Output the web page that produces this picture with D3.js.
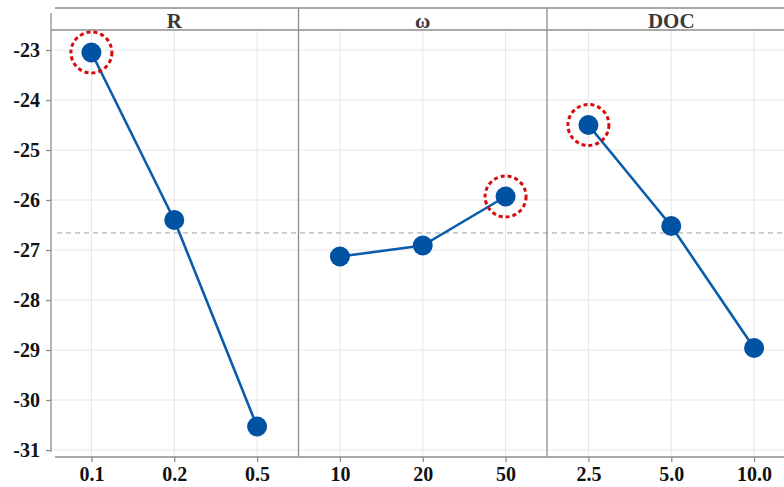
<!DOCTYPE html>
<html>
<head>
<meta charset="utf-8">
<script src="https://cdn.jsdelivr.net/npm/d3@7"></script>
<style>
  html, body { margin: 0; padding: 0; background: #fff; }
  svg { display: block; }
</style>
</head>
<body>
<svg id="chart" width="784" height="487"></svg>
<script>
// Main-effect values per factor level
const factorNames = ["R", "ω", "DOC"];
const rLevels = ["0.1", "0.2", "0.5"];
const rValues = [-23.05, -26.40, -30.53];
const omegaLevels = ["10", "20", "50"];
const omegaValues = [-27.13, -26.91, -25.93];
const docLevels = ["2.5", "5.0", "10.0"];
const docValues = [-24.50, -26.52, -28.96];
const yTickValues = [-23, -24, -25, -26, -27, -28, -29, -30, -31];

const panels = [
  { name: factorNames[0], levels: rLevels, values: rValues },
  { name: factorNames[1], levels: omegaLevels, values: omegaValues },
  { name: factorNames[2], levels: docLevels, values: docValues }
];

const svg = d3.select("#chart");
const W = 784;
const plotTop = 30, plotBottom = 457, stripTop = 8;
const panelLeft = 50, panelWidth = 248.5;
const serif = "'Liberation Serif', 'Times New Roman', serif";

const y = d3.scaleLinear().domain([-31.14, -22.6]).range([plotBottom, plotTop]);
const grandMean = d3.mean(panels.flatMap(p => p.values));

// Horizontal gridlines across all panels
svg.append("g").selectAll("line").data(yTickValues).join("line")
  .attr("x1", panelLeft).attr("x2", W)
  .attr("y1", d => y(d)).attr("y2", d => y(d))
  .attr("stroke", "#e6e6e6").attr("stroke-width", 1);

panels.forEach((p, i) => {
  const x0 = panelLeft + i * panelWidth;
  p.x = d3.scalePoint().domain(p.levels).range([x0, x0 + panelWidth]).padding(0.5);
  p.x0 = x0;
});

// Vertical gridlines at each level
panels.forEach(p => {
  svg.append("g").selectAll("line").data(p.levels).join("line")
    .attr("x1", d => p.x(d)).attr("x2", d => p.x(d))
    .attr("y1", plotTop).attr("y2", plotBottom)
    .attr("stroke", "#e6e6e6").attr("stroke-width", 1);
});

// Grand mean reference line
svg.append("line")
  .attr("x1", 57).attr("x2", W)
  .attr("y1", y(grandMean)).attr("y2", y(grandMean))
  .attr("stroke", "#a0a0a0").attr("stroke-width", 1)
  .attr("stroke-dasharray", "5 4");

// Strip headers and panel frames
const frame = svg.append("g").attr("stroke", "#8c8c8c").attr("stroke-width", 1.3).attr("fill", "none");
frame.append("line").attr("x1", 55).attr("x2", W).attr("y1", stripTop).attr("y2", stripTop);
frame.append("line").attr("x1", 51).attr("x2", W).attr("y1", plotTop).attr("y2", plotTop);
panels.slice(1).forEach(p => {
  frame.append("line").attr("x1", p.x0).attr("x2", p.x0).attr("y1", stripTop).attr("y2", plotBottom);
});

panels.forEach(p => {
  svg.append("text")
    .attr("x", p.x0 + panelWidth / 2).attr("y", 28)
    .attr("text-anchor", "middle")
    .attr("font-family", serif).attr("font-weight", "bold").attr("font-size", 21)
    .attr("fill", "#3a3a3a")
    .text(p.name);
});

// Y axis
const yAxis = svg.append("g").attr("transform", "translate(51,0)")
  .call(d3.axisLeft(y).tickValues(yTickValues).tickSize(5).tickPadding(6).tickFormat(d3.format("d")));
yAxis.select(".domain").attr("d", `M0,13V${y(-31) + 2}`).attr("stroke", "#8c8c8c").attr("stroke-width", 1.3);
yAxis.selectAll(".tick line").attr("stroke", "#8c8c8c").attr("stroke-width", 1.3);
yAxis.selectAll(".tick text")
  .attr("font-family", serif).attr("font-weight", "bold").attr("font-size", 20).attr("fill", "#111")
  .text(d => "-" + Math.abs(d));

// X axis baseline
svg.append("line").attr("x1", 55).attr("x2", W).attr("y1", plotBottom).attr("y2", plotBottom)
  .attr("stroke", "#8c8c8c").attr("stroke-width", 1.3);

panels.forEach(p => {
  const ax = svg.append("g").attr("transform", `translate(0,${plotBottom})`)
    .call(d3.axisBottom(p.x).tickSize(5).tickPadding(5));
  ax.select(".domain").remove();
  ax.selectAll(".tick line").attr("stroke", "#8c8c8c").attr("stroke-width", 1.3);
  ax.selectAll(".tick text")
    .attr("font-family", serif).attr("font-weight", "bold").attr("font-size", 20).attr("fill", "#111");
});

// Lines, points and highlight for the best level
panels.forEach(p => {
  const pts = p.levels.map((l, i) => ({ level: l, value: p.values[i] }));
  svg.append("path")
    .datum(pts)
    .attr("fill", "none").attr("stroke", "#0b5cad").attr("stroke-width", 2.6)
    .attr("d", d3.line().x(d => p.x(d.level)).y(d => y(d.value)));
  svg.append("g").selectAll("circle").data(pts).join("circle")
    .attr("cx", d => p.x(d.level)).attr("cy", d => y(d.value))
    .attr("r", 10).attr("fill", "#0052a3");
  const best = pts[d3.maxIndex(pts, d => d.value)];
  svg.append("circle")
    .attr("cx", p.x(best.level)).attr("cy", y(best.value))
    .attr("r", 20.5).attr("fill", "none")
    .attr("stroke", "#d60a0a").attr("stroke-width", 3)
    .attr("stroke-dasharray", "4 3");
});
</script>
</body>
</html>
